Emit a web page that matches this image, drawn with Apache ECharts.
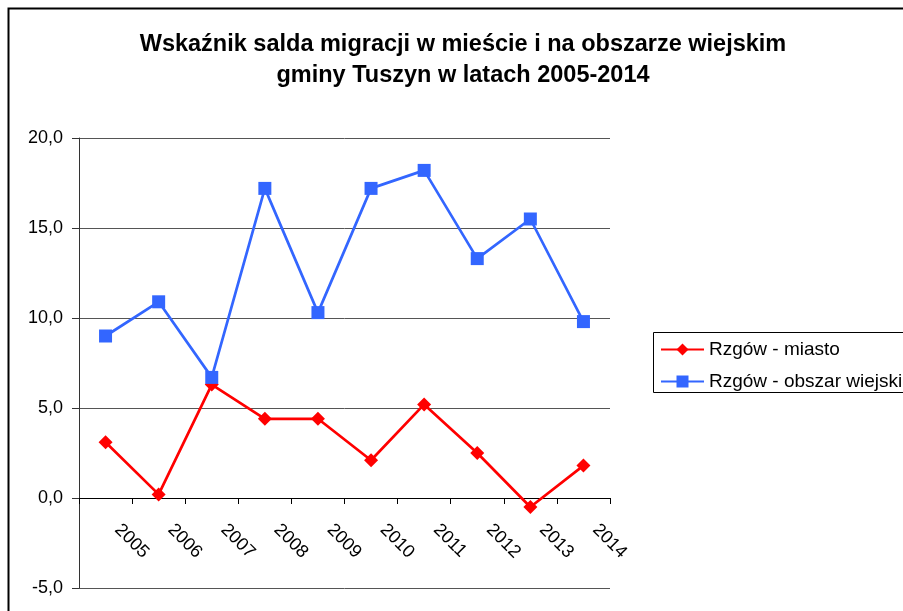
<!DOCTYPE html>
<html>
<head>
<meta charset="utf-8">
<script src="https://cdn.jsdelivr.net/npm/echarts@6/dist/echarts.min.js"></script>
<style>
  html, body { margin: 0; padding: 0; background: #fff; }
  #chart { width: 903px; height: 611px; }
</style>
</head>
<body>
<div id="chart"></div>
<script>
// lata
const years = ['2005', '2006', '2007', '2008', '2009', '2010', '2011', '2012', '2013', '2014'];
// saldo migracji - miasto
const miasto = [3.1, 0.2, 6.3, 4.4, 4.4, 2.1, 5.2, 2.5, -0.5, 1.8];
// saldo migracji - obszar wiejski
const wies = [9.0, 10.9, 6.7, 17.2, 10.3, 17.2, 18.2, 13.3, 15.5, 9.8];
const seriesNames = ['Rzgów - miasto', 'Rzgów - obszar wiejski'];

const chart = echarts.init(document.getElementById('chart'));

const option = {
  animation: false,
  textStyle: { fontFamily: 'Liberation Sans, Arial, sans-serif' },
  title: {
    text: 'Wskaźnik salda migracji w mieście i na obszarze wiejskim\ngminy Tuszyn w latach 2005-2014',
    left: 463,
    textAlign: 'center',
    top: 29,
    padding: 0,
    textStyle: {
      fontSize: 23.5,
      fontWeight: 'bold',
      color: '#000',
      lineHeight: 31,
    },
  },
  graphic: [
    {
      type: 'rect',
      shape: { x: 8.5, y: 8.5, width: 1000, height: 1000 },
      style: { fill: 'none', stroke: '#000', lineWidth: 2 },
      silent: true,
    },
    {
      type: 'rect',
      shape: { x: 653.5, y: 332.5, width: 400, height: 60 },
      style: { fill: '#fff', stroke: '#000', lineWidth: 1 },
      silent: true,
      z: -1,
    },
  ],
  legend: {
    orient: 'vertical',
    left: 660,
    top: 340,
    padding: 0,
    itemWidth: 43,
    itemHeight: 15,
    itemGap: 13,
    data: seriesNames,
    textStyle: { fontSize: 19, color: '#000' },
  },
  grid: {
    left: 79,
    right: 293,
    top: 138,
    bottom: 23,
  },
  xAxis: {
    type: 'category',
    data: years,
    boundaryGap: true,
    // oś na poziomie 0 (5 jednostek nad dołem siatki)
    axisLine: { onZero: false, lineStyle: { color: '#000', width: 1 } },
    offset: -90,
    axisTick: { show: true, length: 6, lineStyle: { color: '#000' } },
    axisLabel: {
      rotate: -45,
      margin: 17,
      padding: [0, 0, 0, 17],
      fontSize: 18,
      color: '#000',
    },
    splitLine: { show: false },
  },
  yAxis: {
    type: 'value',
    min: -5,
    max: 20,
    interval: 5,
    axisLine: { show: true, lineStyle: { color: '#333' } },
    axisTick: { show: true, length: 7, lineStyle: { color: '#333' } },
    axisLabel: {
      fontSize: 18,
      color: '#000',
      margin: 16,
      formatter: (v) => v.toFixed(1).replace('.', ','),
    },
    splitLine: { show: true, lineStyle: { color: '#555', width: 1 } },
  },
  series: [
    {
      name: seriesNames[0],
      type: 'line',
      data: miasto,
      symbol: 'diamond',
      symbolSize: 14,
      color: '#FF0000',
      lineStyle: { color: '#FF0000', width: 2.7 },
      itemStyle: { color: '#FF0000' },
      z: 3,
    },
    {
      name: seriesNames[1],
      type: 'line',
      data: wies,
      symbol: 'rect',
      symbolSize: 13,
      color: '#3366FF',
      lineStyle: { color: '#3366FF', width: 2.7 },
      itemStyle: { color: '#3366FF' },
      z: 4,
    },
  ],
};

chart.setOption(option);
</script>
</body>
</html>
